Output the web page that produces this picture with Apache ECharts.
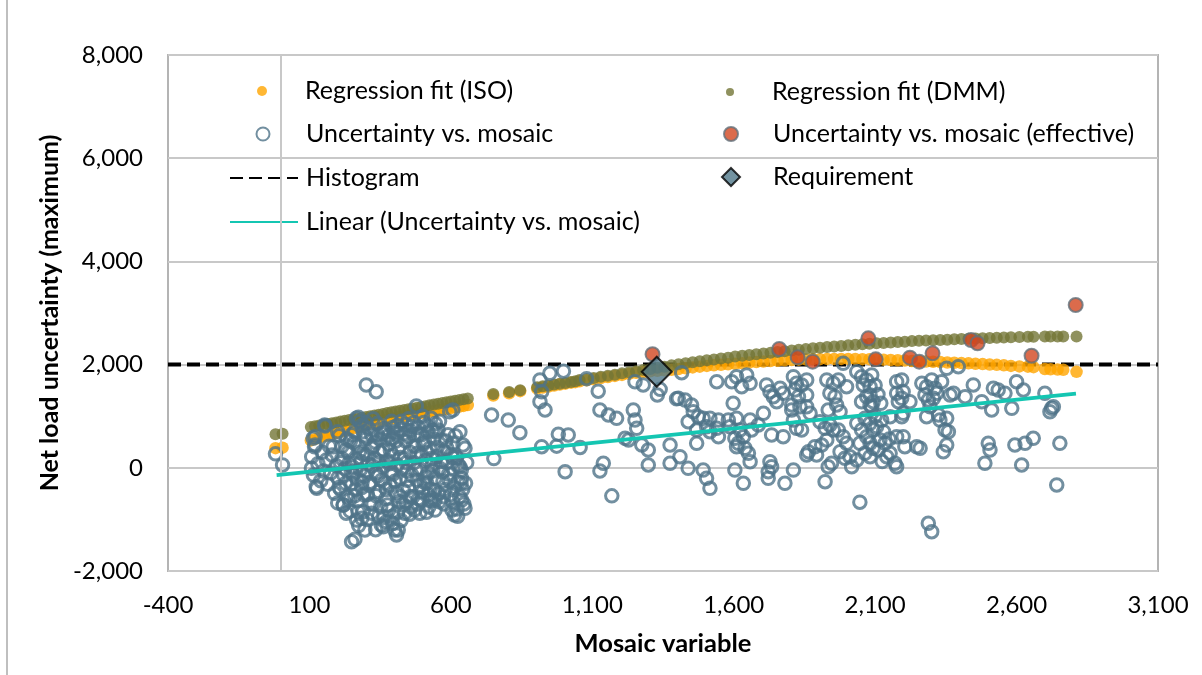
<!DOCTYPE html>
<html><head><meta charset="utf-8">
<script src="https://cdn.jsdelivr.net/npm/echarts@6/dist/echarts.min.js"></script>
<style>html,body{margin:0;padding:0;background:#fff}#c{width:1202px;height:675px}</style>
</head><body><div id="c"></div>
<script>
// ---------- axis settings ----------
const xMin = -400, xMax = 3100, xStep = 500;
const yMin = -2000, yMax = 8000, yStep = 2000;

// ---------- series names ----------
const names = ['Regression fit (ISO)', 'Regression fit (DMM)', 'Uncertainty vs. mosaic',
  'Uncertainty vs. mosaic (effective)', 'Histogram', 'Requirement', 'Linear (Uncertainty vs. mosaic)'];

// ---------- data ----------
const isoFit = [[-20,380],[5,390],
[105,530],[120,560],[135,585],[150,610],[165,630],[180,655],[195,675],[210,700],[225,720],[240,745],[255,765],[270,790],[285,810],[300,835],[315,860],[330,875],[345,895],[360,915],[375,930],[390,950],[405,965],[420,985],[435,1000],[450,1015],[465,1030],[480,1045],[495,1060],[510,1070],[525,1085],[540,1100],[555,1115],[570,1125],[585,1140],[600,1155],[615,1170],[630,1185],[645,1200],[660,1215],
[750,1400],[806,1445],[845,1485],
[905,1535],[925,1555],[945,1575],[965,1595],[985,1615],[1005,1630],[1025,1650],[1040,1660],
[1055,1675],[1080,1695],[1105,1715],[1130,1740],[1155,1760],[1180,1780],[1205,1800],[1230,1820],[1255,1840],[1280,1855],[1305,1870],[1330,1880],[1355,1890],[1380,1900],[1405,1915],[1430,1930],[1455,1945],[1480,1960],[1505,1975],[1530,1985],[1555,1995],[1580,2005],[1605,2015],[1630,2025],[1655,2040],[1680,2050],[1705,2060],[1730,2070],[1755,2075],[1780,2085],[1805,2090],[1830,2095],[1855,2100],[1880,2105],[1905,2105],[1930,2110],[1955,2110],[1980,2110],[2005,2110],[2030,2110],[2055,2105],[2080,2105],[2105,2100],[2130,2095],[2155,2090],[2180,2085],[2205,2080],[2230,2070],[2255,2065],[2280,2060],[2305,2055],[2330,2050],[2355,2040],[2380,2035],[2405,2030],[2430,2025],[2455,2015],[2480,2010],[2505,2000],[2530,1995],[2555,1985],[2580,1975],[2610,1965],[2640,1960],[2660,1950],
[2700,1915],[2720,1910],[2745,1905],[2765,1900],[2812,1860]];

const dmmFit = [[-20,650],[5,660],
[105,790],[120,805],[135,820],[150,835],[165,850],[180,865],[195,880],[210,895],[225,910],[240,925],[255,940],[270,955],[285,970],[300,985],[315,1000],[330,1015],[345,1030],[360,1045],[375,1060],[390,1075],[405,1090],[420,1105],[435,1120],[450,1135],[465,1150],[480,1165],[495,1180],[510,1195],[525,1210],[540,1225],[555,1240],[570,1255],[585,1270],[600,1285],[615,1300],[630,1315],[645,1330],[660,1345],
[750,1430],[806,1470],[845,1505],
[905,1560],[925,1580],[945,1595],[965,1615],[985,1630],[1005,1645],[1025,1665],[1040,1675],
[1055,1700],[1080,1720],[1105,1740],[1130,1765],[1155,1785],[1180,1805],[1205,1830],[1230,1850],[1255,1870],[1280,1895],[1305,1915],[1330,1940],[1355,1960],[1380,1985],[1405,2005],[1430,2025],[1455,2045],[1480,2065],[1505,2085],[1530,2100],[1555,2120],[1580,2135],[1605,2155],[1630,2170],[1655,2185],[1680,2200],[1705,2215],[1730,2230],[1755,2245],[1780,2260],[1805,2275],[1830,2290],[1855,2300],[1880,2315],[1905,2325],[1930,2340],[1955,2350],[1980,2360],[2005,2375],[2030,2385],[2055,2395],[2080,2405],[2105,2415],[2130,2420],[2155,2430],[2180,2440],[2205,2445],[2230,2455],[2255,2460],[2280,2465],[2305,2470],[2330,2475],[2355,2480],[2380,2490],[2405,2495],[2430,2500],[2455,2505],[2480,2510],[2505,2515],[2530,2520],[2555,2525],[2580,2530],[2610,2535],[2640,2540],[2660,2540],
[2700,2545],[2720,2545],[2745,2545],[2765,2545],[2812,2545]];

const uncertainty = [
[-20,270],[5,55],
[108,215],[114,-140],[120,442],[120,603],[126,-398],[107,-10],[113,572],[130,80],[140,-250],[145,300],[150,-60],[155,810],[160,150],[165,-320],[170,420],[175,-100],[180,250],[184,409],[189,-494],[195,40],[200,-200],[205,620],[210,-420],[215,180],[219,-721],[225,-20],[230,350],[235,-560],[240,90],[245,520],[250,-300],[255,-130],[260,700],[265,160],[266,959],[273,979],[278,893],[270,-640],[275,420],[280,-40],[285,-380],[290,260],[295,-160],[300,560],[301,1605],[305,-520],[310,80],[315,-280],[320,380],[325,-700],[330,180],[336,1475],[335,-100],[340,640],[345,-460],[350,300],[355,-240],[360,20],[365,760],[370,-600],[375,140],[380,460],[385,-340],[390,-80],[395,240],[400,700],[405,-480],[410,60],[415,380],[420,-200],[425,900],[430,-720],[435,180],[440,520],[445,-60],[450,-380],[455,300],[460,800],[465,-560],[470,100],[475,420],[478,1198],[480,-240],[485,640],[490,-20],[495,260],[500,-460],[505,880],[507,506],[510,140],[515,-300],[519,700],[520,-100],[525,380],[530,-640],[531,-592],[535,60],[540,560],[545,-200],[550,220],[555,733],[560,-656],[566,539],[570,-80],[575,320],[580,-420],[585,100],[590,640],[596,1087],[607,1120],[607,474],[607,-10],[607,-656],[613,-915],[620,200],[625,-280],[631,-560],[637,-43],[643,442],[650,378],[632,21],[638,-204],[650,-785],[638,-624],[544,-624],[497,-624],[408,-1302],[414,-1205],[361,-1141],[249,-1432],[261,-1386],[267,-1012],[296,-1205],[290,-851],[220,-721],[354,-1109],[372,-1045],[401,-1205],[437,-883],[442,-656],[272,-851],[154,829],[118,409],[124,-366],
[210,100],[228,-300],[238,300],[248,-80],[258,480],[268,-220],[282,120],[292,-520],[302,260],[312,-340],[322,40],[332,500],[342,-160],[352,-760],[362,340],[372,-420],[382,80],[392,560],[402,-260],[412,-860],[422,200],[432,-440],[442,100],[452,600],[462,-140],[472,-820],[482,280],[492,-340],[502,460],[512,-180],[522,-760],[532,180],[542,-440],[552,400],[562,-20],[572,-260],[582,520],[592,-120],[602,260],[612,-380],[622,-800],[632,700],[642,-420],[652,-300],[200,-680],[230,-880],[260,-540],[285,-980],[320,-880],[345,-940],[380,-820],[395,-940],[420,-560],[460,-760],[490,-880],[520,-520],[600,-520],
[390,900],[410,820],[450,950],[470,880],[500,1000],[530,960],[560,900],[340,860],[310,760],[250,640],[200,700],
[205,-380],[215,420],[222,-150],[232,560],[242,-620],[252,20],[262,-420],[276,300],[286,-280],[296,620],[306,-60],[316,-700],[326,420],[336,-540],[346,120],[356,660],[366,-300],[376,-720],[386,340],[396,-120],[406,520],[416,-660],[426,-20],[436,660],[446,-240],[456,-560],[466,420],[476,-40],[486,-600],[496,640],[506,-280],[516,300],[526,-420],[536,-60],[546,700],[556,-500],[566,120],[576,-700],[586,380],[596,-260],[606,200],[616,620],[626,60],[636,-300],[646,-700],[656,100],[244,-840],[274,-1120],[304,-1000],[334,-1200],[364,-960],[394,-1080],[424,-1020],[454,-900],[484,-700],[514,-860],[544,-820],[574,-560],[604,-820],[624,-940],
[350,560],[365,700],[380,620],[395,780],[410,660],[425,740],[440,840],[455,720],[470,640],[485,780],[515,820],[535,720],[545,860],[320,640],[290,700],[300,880],[325,950],[285,820],
[744,1023],[803,926],[844,680],[752,178],
[915,1702],[950,1831],[998,1872],[921,1475],[915,1281],[933,1120],[921,409],[974,420],[980,650],[1015,636],[1057,395],[1004,-76],[1127,-60],[1139,87],[1169,-544],
[1080,1728],[1121,1485],[1127,1120],[1157,1023],[1186,959],[1245,1120],[1251,926],[1257,766],[1216,572],[1228,539],[1275,442],[1298,345],[1298,54],[1375,442],[1375,87],
[1251,1669],[1280,1605],[1330,1411],[1340,1520],[1398,1340],
[1416,1843],[1540,1669],[1593,1669],[1610,1766],[1628,1572],[1646,1798],[1658,1637],
[1404,1346],[1428,1314],[1451,1217],[1457,1087],
[1439,893],[1475,990],[1492,959],[1516,959],[1546,926],
[1469,733],[1504,797],[1516,700],[1546,603],[1540,766],[1469,474],
[1410,215],[1439,-10],[1492,-43],[1504,-204],[1516,-398],
[1581,926],[1598,1250],[1587,797],[1610,959],[1622,733],[1604,572],[1610,409],[1634,603],[1658,926],[1663,733],[1687,830],[1705,1056],
[1616,474],[1640,378],[1652,281],[1658,118],[1604,-43],[1634,-301],
[1716,1605],[1728,1475],[1740,1378],[1764,1540],[1775,1443],[1752,1281],
[1811,1766],[1822,1637],[1840,1605],[1858,1702],[1817,1508],[1829,1378],[1858,1411],
[1805,1217],[1805,1120],[1834,1185],[1858,1185],[1870,1056],
[1734,636],[1775,603],[1811,926],[1822,766],[1840,733],
[1728,118],[1734,21],[1722,-76],[1722,-204],[1781,-301],[1811,-43],
[1858,248],[1864,313],[1887,409],[1893,248],[1923,-269],
[1929,1702],[1952,1637],[1970,1702],[1987,2025],[1999,1572],
[1940,1443],[1958,1378],[1934,1120],[1964,1217],[1976,1087],
[1905,893],[1923,766],[1940,830],[1952,733],[1929,539],[1911,442],
[1970,733],[1987,603],[1999,474],[1976,313],[1993,184],[2017,21],[2011,215],[2035,151],
[1946,87],[1934,21],[2046,-666],
[2035,1862],[2052,1766],[2058,1605],[2070,1702],[2082,1572],
[2052,1281],[2070,1378],[2082,1217],[2093,1281],
[2035,862],[2052,733],[2064,959],[2082,862],[2093,733],[2070,603],[2082,474],[2046,474],
[2082,215],[2064,281],[2093,378],
[2176,1669],[2194,1702],[2176,1443],[2199,1475],[2223,1281],[2182,1281],[2194,1346],
[2194,990],[2199,1056],[2153,990],[2123,926],[2105,797],
[2082,1411],[2088,1185],[2117,539],[2135,474],[2141,215],[2153,281],[2170,87],[2176,603],[2199,603],[2205,409],[2247,409],[2259,378],
[2265,1637],[2282,1572],[2276,1411],[2300,1702],[2312,1540],[2288,1314],[2306,1346],[2318,1443],[2294,1185],[2282,990],[2324,1023],[2329,926],
[2353,1928],[2394,1960],[2335,1669],
[2353,959],[2347,733],[2359,700],[2353,442],[2341,313],
[2288,-1076],[2300,-1238],
[2365,1411],[2377,1443],[2418,1378],
[2447,1605],[2477,1281],[2512,1120],[2518,1540],[2535,1508],[2559,1443],[2583,1153],
[2600,1669],[2624,1508],
[2700,1443],[2724,1153],[2718,1087],[2730,1185],
[2500,474],[2506,345],[2488,87],
[2594,442],[2630,474],[2659,572],[2618,54],[2753,474],[2742,-333],
[2176,21],[2088,1800],[2100,1600],[2110,1420],[2120,1250],[2100,1000],[2130,700],[2150,560],[2110,350],[2125,120]
];

const effective = [[1313,2200],[1761,2302],[1826,2141],[1879,2057],[2076,2509],[2102,2102],[2223,2134],[2256,2057],[2303,2219],[2439,2477],[2462,2412],[2653,2172],[2809,3155]];

const histogram = [[-400,2000],[3100,2000]];
const requirement = [[1328,1862]];
const linearTrend = [[-16,-140],[2810,1436]];
const yAxisCross = 0;

// ---------- styles ----------
const F = 'Lato';
const fmt = v => Number(v).toLocaleString('en-US');

// symbol legend: icon centred at cx, text starting at tx
function legSym(name, cx, cy, s, tx) {
  return { data: [name], left: cx - s / 2, top: cy - 15, itemWidth: s, itemHeight: s, padding: 0, itemGap: 0,
    selectedMode: false,
    textStyle: { fontFamily: F, fontSize: 25, color: '#000', lineHeight: 30, padding: [0, 0, 0, tx - cx - s / 2 - 5] } };
}
// line legend
function legLine(name, left, cy, w, h, tx) {
  return { data: [name], left: left, top: cy - 15, itemWidth: w, itemHeight: h, padding: 0, itemGap: 0,
    selectedMode: false, itemStyle: { opacity: 0 },
    textStyle: { fontFamily: F, fontSize: 25, color: '#000', lineHeight: 30, padding: [0, 0, 0, tx - left - w - 5] } };
}

const chart = echarts.init(document.getElementById('c'), null, { renderer: 'canvas' });
chart.setOption({
  animation: false,
  backgroundColor: '#fff',
  graphic: [{ type: 'line', shape: { x1: 7, y1: 0, x2: 7, y2: 675 }, style: { stroke: '#bfbfbf', lineWidth: 2 } }],
  grid: { left: 168, right: 44, top: 55, bottom: 104, show: true, borderColor: '#b4b4b4', borderWidth: 2, backgroundColor: 'transparent' },
  legend: [
    legSym(names[0], 262, 91, 10, 305),
    legSym(names[2], 262, 134, 13, 305),
    legLine(names[4], 229, 178, 68, 4, 305),
    legLine(names[6], 229, 222, 68, 4, 305),
    legSym(names[1], 730, 92, 8, 772),
    legSym(names[3], 730, 134, 14, 772),
    legSym(names[5], 730, 177, 18, 772)
  ],
  xAxis: {
    type: 'value', min: xMin, max: xMax, interval: xStep,
    name: 'Mosaic variable', nameLocation: 'middle', nameGap: 60,
    nameTextStyle: { fontFamily: F, fontSize: 25.5, fontWeight: 'bold', color: '#000' },
    axisLine: { show: false, onZero: false },
    axisTick: { show: false },
    splitLine: { show: false },
    axisLabel: { fontFamily: F, fontSize: 24, color: '#000', margin: 22, formatter: fmt }
  },
  yAxis: {
    type: 'value', min: yMin, max: yMax, interval: yStep,
    name: 'Net load uncertainty (maximum)', nameLocation: 'middle', nameGap: 103,
    nameTextStyle: { fontFamily: F, fontSize: 25, fontWeight: 'bold', color: '#000' },
    axisLine: { show: false },
    axisTick: { show: false },
    splitLine: { show: true, lineStyle: { color: '#c8c8c8', width: 2 } },
    axisLabel: { fontFamily: F, fontSize: 24, color: '#000', margin: 25, formatter: fmt }
  },
  series: [
    { name: names[4], type: 'line', data: histogram, symbol: 'none', z: 2,
      lineStyle: { color: '#000', width: 4, type: [13, 6] }, itemStyle: { color: '#000' },
      markLine: { silent: true, symbol: 'none', label: { show: false },
        lineStyle: { color: '#c8c8c8', width: 2, type: 'solid' }, data: [{ xAxis: yAxisCross }] } },
    { name: names[0], type: 'scatter', data: isoFit, symbol: 'circle', symbolSize: 12.5, z: 3,
      itemStyle: { color: '#ffa500' } },
    { name: names[1], type: 'scatter', data: dmmFit, symbol: 'circle', symbolSize: 12, z: 3,
      itemStyle: { color: '#737536' } },
    { name: names[2], type: 'scatter', data: uncertainty, symbol: 'circle', symbolSize: 12.5, z: 4,
      itemStyle: { color: 'rgba(255,255,255,0)', borderColor: '#4f7388', borderWidth: 3 } },
    { name: names[3], type: 'scatter', data: effective, symbol: 'circle', symbolSize: 14, z: 5,
      itemStyle: { color: '#d2461f', borderColor: '#62707a', borderWidth: 2 } },
    { name: names[6], type: 'line', data: linearTrend, symbol: 'none', z: 6,
      lineStyle: { color: '#14c6b2', width: 3.8 }, itemStyle: { color: '#14c6b2' } },
    { name: names[5], type: 'scatter', data: requirement, symbol: 'diamond', symbolSize: 30, z: 7,
      itemStyle: { color: '#507889', borderColor: '#000', borderWidth: 2 } }
  ]
});
</script></body></html>
